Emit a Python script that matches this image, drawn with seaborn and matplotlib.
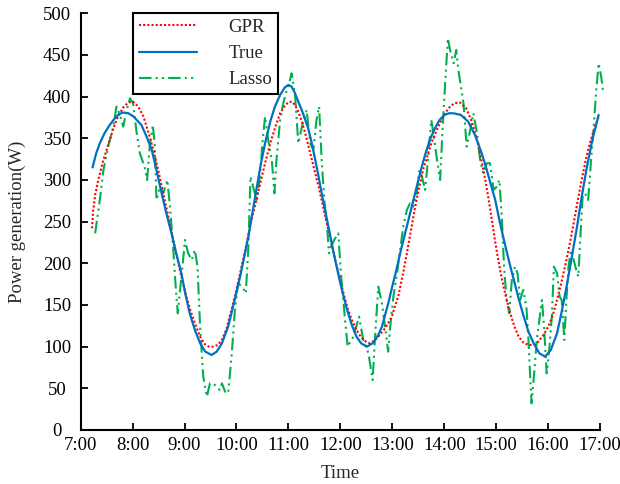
import pandas as pd
import seaborn as sns
import matplotlib.pyplot as plt

# Values (time in hours, power in W)
true_t = [7.23, 7.30, 7.37, 7.46, 7.56, 7.66, 7.74, 7.82, 7.92, 8.02, 8.17, 8.27,
          8.37, 8.46, 8.56, 8.65, 8.75, 8.84, 8.94, 9.02, 9.10, 9.20, 9.30, 9.40,
          9.52, 9.62, 9.72, 9.84, 9.95, 10.07, 10.15, 10.23, 10.30, 10.36, 10.46,
          10.55, 10.65, 10.74, 10.84, 10.93, 11.00, 11.06, 11.12, 11.19, 11.28, 11.38,
          11.45, 11.51, 11.58, 11.64, 11.71, 11.77, 11.84, 11.90, 11.97, 12.03, 12.12,
          12.22, 12.31, 12.40, 12.51, 12.62, 12.73, 12.80, 12.86, 12.93, 12.99, 13.07,
          13.15, 13.23, 13.31, 13.39, 13.47, 13.55, 13.63, 13.72, 13.82, 13.91, 14.00,
          14.09, 14.18, 14.32, 14.46, 14.59, 14.72, 14.80, 14.88, 14.98, 15.06, 15.14,
          15.24, 15.33, 15.43, 15.52, 15.62, 15.72, 15.83, 15.94, 16.05, 16.17, 16.26,
          16.36, 16.45, 16.55, 16.64, 16.74, 16.85, 16.97]
true_w = [315, 332, 344, 356, 366, 374, 379, 381, 380, 376, 366, 352,
          336, 312, 284, 260, 236, 212, 188, 162, 140, 120, 104, 94,
          90, 94, 104, 124, 152, 184, 208, 232, 258, 280, 316,
          344, 370, 388, 402, 411, 414, 412, 405, 394, 380, 362,
          344, 326, 304, 284, 262, 244, 222, 204, 184, 168, 146,
          126, 112, 104, 100, 104, 114, 124, 138, 154, 170, 190,
          212, 232, 252, 272, 292, 312, 330, 348, 362, 372, 378,
          380, 380, 378, 370, 354, 332, 316, 298, 276, 252, 230,
          204, 182, 158, 138, 118, 104, 92, 88, 96, 116, 142,
          174, 206, 242, 278, 314, 348, 378]

gpr_t = [7.22, 7.24, 7.28, 7.34, 7.43, 7.53, 7.62, 7.72, 7.82, 7.92, 8.01, 8.11,
         8.21, 8.30, 8.40, 8.50, 8.59, 8.69, 8.78, 8.86, 8.94, 9.02, 9.10, 9.20,
         9.30, 9.39, 9.47, 9.55, 9.64, 9.72, 9.81, 9.91, 9.99, 10.07, 10.17, 10.26,
         10.36, 10.45, 10.55, 10.65, 10.75, 10.84, 10.94, 11.02, 11.09, 11.17, 11.26,
         11.34, 11.42, 11.50, 11.58, 11.66, 11.74, 11.82, 11.90, 11.98, 12.06, 12.14,
         12.22, 12.31, 12.40, 12.49, 12.57, 12.65, 12.73, 12.86, 12.99, 13.12, 13.20,
         13.28, 13.36, 13.44, 13.52, 13.60, 13.68, 13.76, 13.87, 13.98, 14.08, 14.19,
         14.30, 14.42, 14.53, 14.63, 14.72, 14.79, 14.85, 14.93, 15.01, 15.08, 15.14,
         15.21, 15.27, 15.35, 15.43, 15.52, 15.62, 15.72, 15.81, 15.91, 16.00, 16.09,
         16.17, 16.25, 16.33, 16.41, 16.49, 16.57, 16.65, 16.73, 16.81, 16.89, 16.97]
gpr_w = [242, 262, 282, 300, 322, 342, 360, 376, 387, 393, 394, 388,
         376, 358, 336, 310, 284, 256, 228, 206, 184, 164, 146, 128,
         112, 103, 100, 100, 102, 108, 122, 146, 166, 188, 216, 244,
         270, 294, 320, 344, 364, 380, 390, 394, 393, 385, 370,
         352, 332, 312, 292, 270, 248, 226, 204, 184, 164, 146,
         132, 120, 111, 106, 104, 107, 112, 122, 136, 162, 186,
         212, 240, 268, 292, 314, 330, 346, 362, 376, 386, 392,
         393, 386, 370, 348, 322, 300, 278, 246, 214, 190, 172,
         154, 140, 124, 112, 105, 102, 102, 106, 114, 124, 138,
         156, 176, 198, 222, 248, 276, 302, 326, 346, 362, 376]

lasso_t = [7.28, 7.37, 7.44, 7.53, 7.63, 7.69, 7.76, 7.82, 7.88, 7.95, 8.01, 8.08,
           8.14, 8.23, 8.28, 8.33, 8.39, 8.43, 8.46, 8.53, 8.59, 8.67, 8.72, 8.78,
           8.83, 8.87, 8.94, 9.01, 9.07, 9.14, 9.20, 9.25, 9.30, 9.36, 9.43, 9.49,
           9.55, 9.62, 9.68, 9.72, 9.78, 9.84, 9.91, 9.97, 10.03, 10.11, 10.18, 10.23,
           10.27, 10.32, 10.39, 10.45, 10.50, 10.55, 10.61, 10.68, 10.73, 10.77, 10.84,
           10.90, 10.97, 11.03, 11.06, 11.13, 11.19, 11.26, 11.35, 11.42, 11.48, 11.54,
           11.59, 11.64, 11.69, 11.74, 11.78, 11.82, 11.88, 11.96, 12.01, 12.09, 12.14,
           12.25, 12.36, 12.44, 12.54, 12.62, 12.68, 12.73, 12.80, 12.86, 12.92, 12.96,
           13.02, 13.09, 13.15, 13.21, 13.28, 13.34, 13.40, 13.47, 13.52, 13.57, 13.63,
           13.68, 13.75, 13.79, 13.86, 13.92, 13.96, 14.02, 14.07, 14.11, 14.18, 14.23,
           14.27, 14.32, 14.37, 14.43, 14.50, 14.56, 14.63, 14.69, 14.75, 14.82, 14.88,
           14.95, 15.01, 15.06, 15.11, 15.15, 15.20, 15.25, 15.30, 15.36, 15.41, 15.46,
           15.52, 15.58, 15.62, 15.65, 15.68, 15.73, 15.78, 15.83, 15.88, 15.92, 15.97,
           16.02, 16.07, 16.11, 16.17, 16.22, 16.26, 16.31, 16.35, 16.39, 16.44, 16.49,
           16.54, 16.58, 16.63, 16.67, 16.71, 16.77, 16.82, 16.87, 16.92, 16.97, 17.02,
           17.06]
lasso_w = [236, 276, 312, 340, 364, 388, 378, 364, 382, 398, 392, 356,
           332, 316, 300, 340, 366, 340, 276, 292, 284, 300, 268, 220,
           172, 140, 184, 228, 212, 204, 216, 196, 124, 64, 40, 56,
           56, 52, 48, 56, 46, 44, 92, 144, 176, 172, 164, 220,
           304, 292, 276, 304, 344, 376, 348, 324, 284, 324, 372,
           392, 408, 420, 428, 400, 344, 364, 384, 344, 336, 372,
           388, 324, 276, 248, 212, 220, 228, 236, 188, 132, 100,
           112, 136, 108, 92, 60, 124, 172, 152, 124, 94, 124,
           160, 188, 216, 244, 264, 272, 268, 284, 312, 304, 288,
           320, 372, 356, 324, 300, 352, 420, 470, 456, 440, 456,
           432, 412, 392, 340, 360, 380, 356, 324, 308, 320, 320,
           288, 292, 300, 252, 196, 156, 140, 180, 196, 188, 156,
           168, 148, 108, 68, 32, 68, 108, 132, 156, 124, 68,
           96, 136, 196, 188, 160, 156, 108, 156, 196, 216, 204,
           192, 184, 244, 288, 284, 276, 320, 360, 404, 440, 424,
           404]

hours = [7, 8, 9, 10, 11, 12, 13, 14, 15, 16, 17]
hour_labels = ['7:00', '8:00', '9:00', '10:00', '11:00', '12:00',
               '13:00', '14:00', '15:00', '16:00', '17:00']

sns.set_style('ticks')
plt.rcParams['font.family'] = ['Liberation Serif', 'DejaVu Serif']
fs = 13.5

fig = plt.figure(figsize=(6.2, 4.84), dpi=100)
ax = fig.add_axes([0.130, 0.1116, 0.838, 0.861])

df_true = pd.DataFrame({'t': true_t, 'w': true_w})
df_gpr = pd.DataFrame({'t': gpr_t, 'w': gpr_w})
df_lasso = pd.DataFrame({'t': lasso_t, 'w': lasso_w})

sns.lineplot(data=df_lasso, x='t', y='w', ax=ax, color='#00B050', lw=1.5,
             linestyle=(0, (6, 2, 1, 2, 1, 2)), label='Lasso', clip_on=False)
sns.lineplot(data=df_gpr, x='t', y='w', ax=ax, color='#FF0000', lw=1.5,
             linestyle=(0, (1, 1)), label='GPR')
sns.lineplot(data=df_true, x='t', y='w', ax=ax, color='#0070C0', lw=1.6,
             label='True')

ax.set_xlim(7, 17)
ax.set_ylim(0, 500)
ax.set_xticks(hours)
ax.set_xticklabels(hour_labels)
ax.set_yticks(range(0, 501, 50))
ax.tick_params(direction='in', length=5, width=1.3, labelsize=fs, colors='black')
ax.tick_params(axis='x', pad=5)
ax.tick_params(axis='y', pad=17)
for lab in ax.get_yticklabels():
    lab.set_horizontalalignment('center')
for side in ['top', 'right']:
    ax.spines[side].set_visible(False)
for side in ['left', 'bottom']:
    ax.spines[side].set_linewidth(1.5)
    ax.spines[side].set_color('black')

ax.set_xlabel('Time', fontsize=fs, labelpad=8)
ax.set_ylabel('Power generation(W)', fontsize=fs, labelpad=12)

handles, labels = ax.get_legend_handles_labels()
order = [labels.index(n) for n in ['GPR', 'True', 'Lasso']]
leg = ax.legend([handles[i] for i in order], [labels[i] for i in order],
                loc='upper left', bbox_to_anchor=(0.101, 1.0), fancybox=False,
                framealpha=1, edgecolor='black', handlelength=3.1,
                handletextpad=1.7, labelspacing=0.48, borderpad=0.3,
                borderaxespad=0, fontsize=fs)
leg.get_frame().set_linewidth(1.5)

fig.savefig('out.png', dpi=100)
